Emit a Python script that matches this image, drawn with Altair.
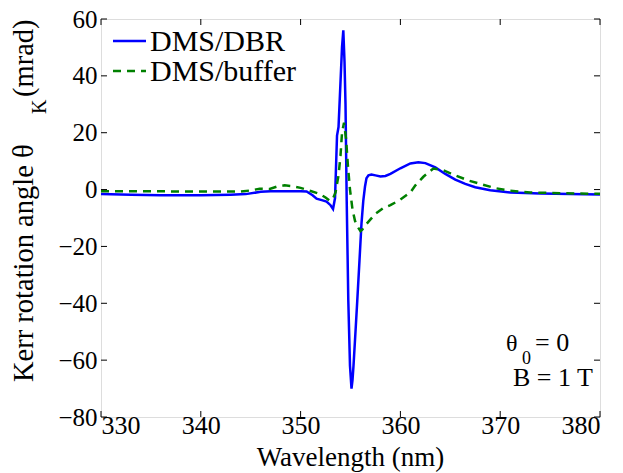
import altair as alt
import pandas as pd

# ---- data ----
dbr_wl = [330, 333, 336, 340, 343, 344.5, 346, 347, 350, 350.6, 351.2, 351.6, 352.2, 352.6,
          353.0, 353.25, 353.45, 353.55, 353.65, 353.8, 354.0, 354.15, 354.28, 354.4, 354.5,
          354.62, 354.78, 354.95, 355.1, 355.2, 355.3, 355.5, 355.68, 355.9, 356.1, 356.28,
          356.45, 356.6, 356.8, 357.1, 357.5, 358.0, 358.5, 359.0, 360.0, 361.0, 361.8, 362.5,
          363.5, 364.5, 365.5, 366.5, 367.5, 369, 371, 374, 377, 380]
dbr_val = [-1.6, -1.8, -2.0, -2.0, -1.8, -1.6, -0.8, -0.6, -0.6, -0.7, -2.0, -3.2, -3.8, -4.2,
           -5.5, -6.8, -3.0, 8.0, 19.0, 22.0, 38.0, 50.0, 56.0, 45.0, 30.0,
           -4.0, -39.0, -62.0, -70.0, -67.0, -62.0, -50.0, -39.0, -25.0, -12.0, -4.0,
           1.0, 4.0, 5.0, 5.3, 5.0, 4.6, 4.8, 5.5, 7.5, 9.2, 9.6, 9.3,
           7.8, 5.5, 3.5, 2.0, 0.8, -0.2, -1.0, -1.4, -1.6, -1.7]

buf_wl = [330, 335, 340, 344, 345, 345.9, 346.9, 347.6, 348.4, 349.2, 350, 351, 351.9, 352.5,
          352.9, 353.2, 353.5, 353.8, 354.0, 354.15, 354.35, 354.55, 354.75, 354.95, 355.2,
          355.45, 355.7, 356.0, 356.2, 356.5, 357.0, 357.5, 358.3, 359, 360, 361, 361.5, 362.3,
          363.3, 364.3, 365.5, 366.8, 368, 369.5, 371, 373, 376, 380]
buf_val = [-0.6, -0.6, -0.7, -0.7, -0.3, 0.3, 0.2, 1.0, 1.5, 1.2, 0.6, -0.5, -1.5, -2.8,
           -3.9, -3.5, -1.0, 5.0, 12.0, 20.0, 23.5, 18.0, 8.0, 0.0, -7.0,
           -11.0, -13.0, -14.6, -14.0, -12.5, -10.5, -8.5, -6.5, -5.5, -3.5, -1.0, 1.5, 4.5,
           7.4, 6.8, 5.0, 3.2, 2.0, 0.5, -0.4, -1.0, -1.3, -1.5]

x_ticks = [330, 340, 350, 360, 370, 380]
y_ticks = [-80, -60, -40, -20, 0, 20, 40, 60]
series_names = ["DMS/DBR", "DMS/buffer"]
series_colors = ["#0000ff", "#008000"]

W, H = 499, 398
FONT = "Liberation Serif, Times New Roman, serif"

df_dbr = pd.DataFrame({"wl": dbr_wl, "val": dbr_val})
df_buf = pd.DataFrame({"wl": buf_wl, "val": buf_val})
df_xt = pd.DataFrame({"t": x_ticks})
df_yt = pd.DataFrame({"t": y_ticks})

xs = alt.Scale(domain=[330, 380], nice=False)
ys = alt.Scale(domain=[-80, 60], nice=False)

x_axis = alt.Axis(values=x_ticks, ticks=False, domain=False, grid=False, labelFont=FONT,
                  labelFontSize=26, labelColor="black", labelPadding=-5, title=None)
y_axis = alt.Axis(values=y_ticks, ticks=False, domain=False, grid=False, labelFont=FONT,
                  labelFontSize=25, labelColor="black", labelPadding=4, title=None)

blue = alt.Chart(df_dbr).mark_line(color=series_colors[0], strokeWidth=2.5).encode(
    x=alt.X("wl:Q", scale=xs, axis=x_axis),
    y=alt.Y("val:Q", scale=ys, axis=y_axis),
)
green = alt.Chart(df_buf).mark_line(color=series_colors[1], strokeWidth=2.5, strokeDash=[8, 6]).encode(
    x=alt.X("wl:Q", scale=xs),
    y=alt.Y("val:Q", scale=ys),
)

TL = 6
bt = alt.Chart(df_xt).mark_rule(color="black", strokeWidth=1).encode(
    x=alt.X("t:Q", scale=xs), y=alt.value(H), y2=alt.value(H - TL))
tt = alt.Chart(df_xt).mark_rule(color="black", strokeWidth=1).encode(
    x=alt.X("t:Q", scale=xs), y=alt.value(0), y2=alt.value(TL))
lt = alt.Chart(df_yt).mark_rule(color="black", strokeWidth=1).encode(
    y=alt.Y("t:Q", scale=ys), x=alt.value(0), x2=alt.value(TL))
rt = alt.Chart(df_yt).mark_rule(color="black", strokeWidth=1).encode(
    y=alt.Y("t:Q", scale=ys), x=alt.value(W), x2=alt.value(W - TL))

one = df_xt.head(1)

# legend
leg1 = alt.Chart(one).mark_rule(color=series_colors[0], strokeWidth=2.5).encode(
    x=alt.value(12), x2=alt.value(45), y=alt.value(22))
leg2 = alt.Chart(one).mark_rule(color=series_colors[1], strokeWidth=2.5, strokeDash=[8, 6]).encode(
    x=alt.value(12), x2=alt.value(45), y=alt.value(52))


def txt(s, x, y, size, angle=0, align="left"):
    return alt.Chart(one).mark_text(font=FONT, fontSize=size, align=align,
                                    baseline="alphabetic", angle=angle, color="black").encode(
        x=alt.value(x), y=alt.value(y), text=alt.value(s))


texts = [
    txt(series_names[0], 49, 32, 30),
    txt(series_names[1], 49, 62, 30),
    txt("θ", 405, 332, 24),
    txt("0", 421, 345, 18),
    txt("= 0", 434, 332, 26),
    txt("B = 1 T", 412, 367, 26),
    txt("Wavelength (nm)", W / 2, 447, 27, align="center"),
    txt("Kerr rotation angle  θ", -68, 363, 28.5, angle=270),
    txt("K", -55, 95, 20, angle=270),
    txt("(mrad)", -68, 78, 28.5, angle=270),
]

chart = alt.layer(blue, green, bt, tt, lt, rt, leg1, leg2, *texts).properties(
    width=W, height=H,
    padding={"left": 93, "top": 11, "right": 15, "bottom": 56},
    autosize=alt.AutoSizeParams(type="none"),
).configure_view(stroke="black", strokeWidth=1.2).configure(background="white")

chart.save("out.html", embed_options={"renderer": "svg", "actions": False})
